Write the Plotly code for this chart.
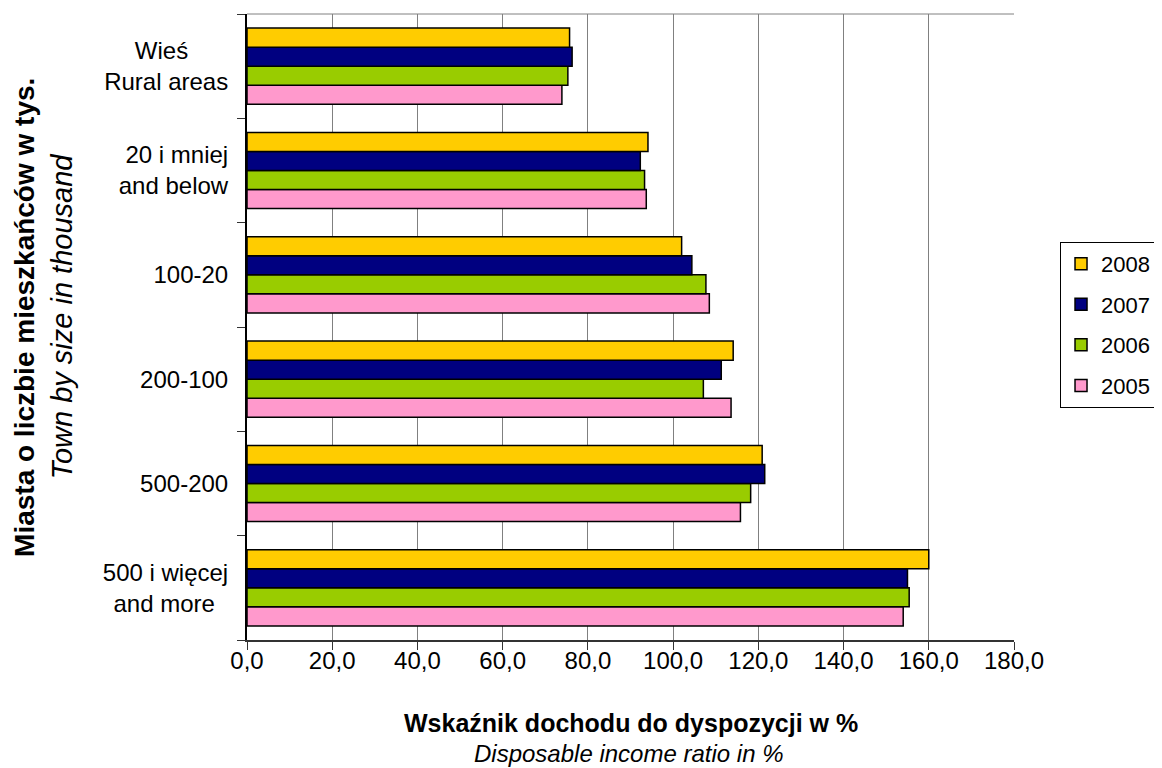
import plotly.graph_objects as go

NB = "\u00a0"
categories = ["500 i więcej<br>and more" + NB * 2, "500-200", "200-100", "100-20",
              "20 i mniej<br>and below", "Wieś" + NB * 6 + "<br>Rural areas"]
years = ["2005", "2006", "2007", "2008"]
v2005 = [154.0, 115.8, 113.6, 108.5, 93.7, 73.9]
v2006 = [155.4, 118.2, 107.1, 107.7, 93.3, 75.3]
v2007 = [155.0, 121.5, 111.3, 104.4, 92.3, 76.3]
v2008 = [160.0, 120.9, 114.1, 102.0, 94.1, 75.7]
series = [v2005, v2006, v2007, v2008]
colors = ["#FF99CC", "#99CC00", "#000080", "#FFCC00"]
xticks = [0, 20, 40, 60, 80, 100, 120, 140, 160, 180]
xticklabels = ["0,0", "20,0", "40,0", "60,0", "80,0", "100,0", "120,0", "140,0", "160,0", "180,0"]

FONT = "Liberation Sans, Arial, sans-serif"
fig = go.Figure()
for i, (yr, vals, col) in enumerate(zip(years, series, colors)):
    fig.add_trace(go.Bar(
        y=categories, x=vals, name=yr, orientation="h",
        marker=dict(color=col, line=dict(color="black", width=1.5)),
        legendgroup=yr, legendrank=1000 - i,
    ))

fig.update_layout(
    width=1154, height=760,
    margin=dict(l=239, r=148, t=6, b=128, autoexpand=False),
    paper_bgcolor="white", plot_bgcolor="white",
    barmode="group", bargap=0.27, bargroupgap=0,
    font=dict(family=FONT, size=24, color="black"),
    legend=dict(x=1.06, y=0.636, xanchor="left", yanchor="top",
                traceorder="grouped", tracegroupgap=9,
                bordercolor="black", borderwidth=1,
                font=dict(size=22)),
    xaxis=dict(range=[0, 180], tickvals=xticks, ticktext=xticklabels,
               showgrid=True, gridcolor="#808080", gridwidth=1,
               zeroline=False, showline=True, linecolor="#333333", linewidth=2,
               ticks="outside", ticklen=8, tickcolor="#333333",
               ticklabelstandoff=-10),
    yaxis=dict(categoryorder="array", categoryarray=categories,
               showline=True, linecolor="black", linewidth=2,
               ticks="outside", ticklen=8, tickcolor="#333333",
               tickson="boundaries", showgrid=False, ticklabelstandoff=12),
    shapes=[dict(type="line", xref="paper", yref="paper", x0=0, x1=1, y0=1, y1=1,
                 line=dict(color="#808080", width=1))],
    annotations=[
        dict(text="<b>Wskaźnik dochodu do dyspozycji w %</b>", xref="paper", yref="paper",
             x=0.5, y=-0.133, showarrow=False, xanchor="center", yanchor="middle",
             font=dict(size=25)),
        dict(text="<i>Disposable income ratio in %</i>", xref="paper", yref="paper",
             x=0.497, y=-0.182, showarrow=False, xanchor="center", yanchor="middle",
             font=dict(size=24)),
        dict(text="<b>Miasta o liczbie mieszkańców w tys.</b>", xref="paper", yref="paper",
             x=-0.2895, y=0.516, showarrow=False, textangle=-90,
             xanchor="center", yanchor="middle", font=dict(size=28)),
        dict(text="<i>Town by size in thousand</i>", xref="paper", yref="paper",
             x=-0.241, y=0.516, showarrow=False, textangle=-90,
             xanchor="center", yanchor="middle", font=dict(size=29)),
    ],
)
fig.write_html("out.html")
